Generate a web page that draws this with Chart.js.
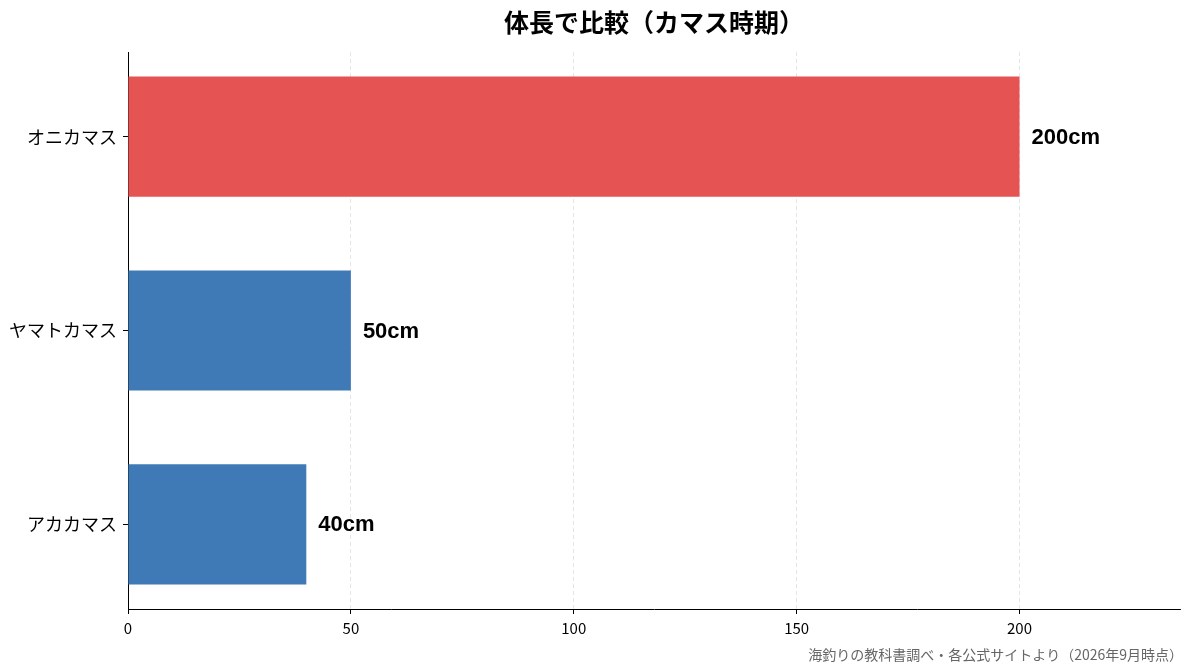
<!DOCTYPE html>
<html>
<head>
<meta charset="utf-8">
<script src="https://cdn.jsdelivr.net/npm/chart.js@4"></script>
<style>
html,body{margin:0;padding:0;background:#fff;}
#wrap{width:1193px;height:672px;position:relative;}
</style>
</head>
<body>
<div id="wrap"><canvas id="c"></canvas></div>
<script>
const categories = ["オニカマス", "ヤマトカマス", "アカカマス"];
const lengthsCm = [200, 50, 40];
const barColors = ["#E65353", "#3F7AB6", "#3F7AB6"];
const xTickValues = [0, 50, 100, 150, 200];
const titleText = "体長で比較（カマス時期）";
const sourceText = "海釣りの教科書調べ・各公式サイトより（2026年9月時点）";

const FONT = "'Noto Sans CJK JP', 'Noto Sans', sans-serif";

const valueLabels = {
  id: 'valueLabels',
  afterDatasetsDraw(chart) {
    const ctx = chart.ctx;
    const meta = chart.getDatasetMeta(0);
    ctx.save();
    ctx.fillStyle = '#000';
    ctx.font = "bold 22px 'Liberation Sans', Arial, sans-serif";
    ctx.textAlign = 'left';
    ctx.textBaseline = 'middle';
    meta.data.forEach((bar, i) => {
      ctx.fillText(lengthsCm[i] + 'cm', bar.x + 12, bar.y + 1);
    });
    ctx.restore();
  }
};

const footerNote = {
  id: 'footerNote',
  afterDraw(chart) {
    const ctx = chart.ctx;
    ctx.save();
    ctx.fillStyle = '#666';
    ctx.font = "14px " + FONT;
    ctx.textAlign = 'right';
    ctx.textBaseline = 'middle';
    ctx.fillText(sourceText, chart.width - 10, 655);
    ctx.restore();
  }
};

new Chart(document.getElementById('c'), {
  type: 'bar',
  data: {
    datasets: [{
      data: categories.map((c, i) => ({ x: lengthsCm[i], y: i })),
      backgroundColor: barColors,
      borderWidth: 0,
      barPercentage: 0.62,
      categoryPercentage: 1.0
    }]
  },
  options: {
    indexAxis: 'y',
    responsive: true,
    maintainAspectRatio: false,
    animation: false,
    layout: { padding: { left: 0, right: 13, top: 0, bottom: 0 } },
    plugins: {
      legend: { display: false },
      tooltip: { enabled: false },
      title: {
        display: true,
        text: titleText,
        fullSize: false,
        color: '#000',
        font: { family: FONT, size: 25, weight: 'bold', lineHeight: 1.2 },
        padding: { top: 7, bottom: 15 }
      }
    },
    scales: {
      x: {
        type: 'linear',
        min: 0,
        max: 236,
        offset: false,
        afterBuildTicks(scale) { scale.ticks = xTickValues.map(v => ({ value: v })); },
        afterFit(scale) { scale.height = 63; },
        grid: {
          display: true,
          drawOnChartArea: true,
          drawTicks: true,
          tickLength: 5,
          tickColor: '#000',
          tickWidth: 1,
          lineWidth: 0.8,
          color: (ctx) => (ctx.tick && ctx.tick.value === 0) ? 'rgba(0,0,0,0)' : '#dedede'
        },
        border: { display: true, color: '#000', width: 1, dash: [4, 3] },
        ticks: {
          color: '#000',
          padding: 5,
          maxRotation: 0,
          font: { family: FONT, size: 15 }
        }
      },
      y: {
        type: 'linear',
        min: -0.437,
        max: 2.437,
        reverse: true,
        offset: false,
        afterBuildTicks(scale) { scale.ticks = categories.map((c, i) => ({ value: i })); },
        afterFit(scale) { scale.width = 128; },
        grid: {
          display: true,
          drawOnChartArea: false,
          drawTicks: true,
          tickLength: 5,
          tickColor: '#000',
          offset: false
        },
        border: { display: true, color: '#000', width: 1 },
        ticks: {
          color: '#000',
          padding: 6,
          autoSkip: false,
          font: { family: FONT, size: 18 },
          callback: (v) => categories[v] !== undefined ? categories[v] : ''
        }
      }
    }
  },
  plugins: [valueLabels, footerNote]
});
</script>
</body>
</html>
